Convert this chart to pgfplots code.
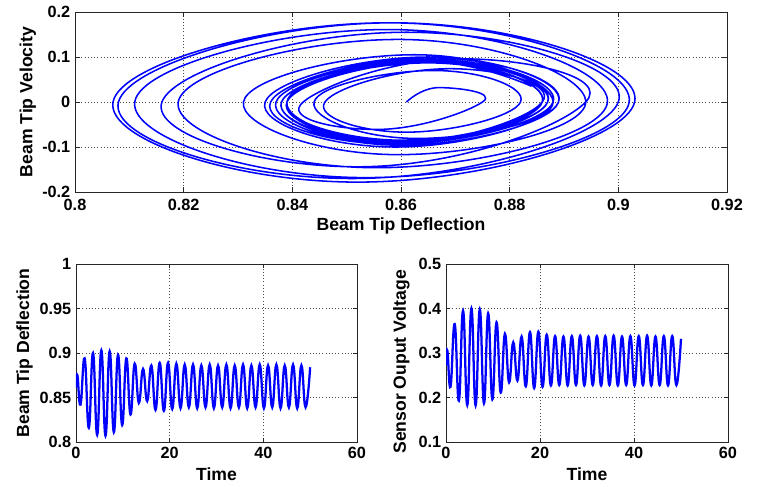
\documentclass[border=0pt]{standalone}
\usepackage{fontspec}
\setmainfont{Liberation Sans}
\usepackage{pgfplots}
\usepackage{pgfplotstable}
\pgfplotsset{compat=1.18}

% extremes of the time histories: time, tip deflection, sensor voltage
\pgfplotstableread{
t D V
0.00 0.861 0.272
0.30 0.875 0.305
0.96 0.842 0.224
1.85 0.894 0.365
2.74 0.816 0.193
3.63 0.900 0.395
4.52 0.808 0.183
5.41 0.903 0.400
6.30 0.807 0.182
7.19 0.902 0.398
8.08 0.811 0.187
8.97 0.898 0.389
9.86 0.819 0.196
10.75 0.894 0.369
11.64 0.831 0.211
12.53 0.888 0.343
13.42 0.844 0.234
14.31 0.882 0.324
15.20 0.846 0.238
16.09 0.886 0.337
16.98 0.836 0.225
17.87 0.889 0.347
18.76 0.835 0.221
19.65 0.889 0.348
20.54 0.837 0.224
21.43 0.888 0.341
22.32 0.838 0.227
23.21 0.887 0.338
24.10 0.839 0.228
24.99 0.887 0.337
25.88 0.838 0.227
26.77 0.886 0.338
27.66 0.839 0.228
28.55 0.887 0.339
29.44 0.838 0.227
30.33 0.886 0.337
31.22 0.839 0.228
32.11 0.887 0.338
33.00 0.838 0.227
33.89 0.886 0.338
34.78 0.839 0.228
35.67 0.887 0.339
36.56 0.838 0.227
37.45 0.886 0.337
38.34 0.839 0.228
39.23 0.887 0.338
40.12 0.838 0.227
41.01 0.886 0.338
41.90 0.839 0.228
42.79 0.887 0.339
43.68 0.838 0.227
44.57 0.886 0.337
45.46 0.839 0.228
46.35 0.887 0.338
47.24 0.838 0.227
48.13 0.886 0.338
49.02 0.839 0.228
50.00 0.884 0.332
}\histories

% phase portrait: deflection vs velocity
\pgfplotstableread{
x v
0.861 0.000
0.867 0.032
0.875 0.000
0.8555 -0.061
0.842 0.000
0.871 0.096
0.894 0.000
0.852 -0.144
0.816 0.000
0.861 0.155
0.900 0.000
0.851 -0.170
0.808 0.000
0.8585 0.176
0.903 0.000
0.852 -0.178
0.807 0.000
0.8575 0.176
0.902 0.000
0.8535 -0.168
0.811 0.000
0.8575 0.161
0.898 0.000
0.8555 -0.146
0.819 0.000
0.8595 0.139
0.894 0.000
0.8595 -0.117
0.831 0.000
0.8625 0.105
0.888 0.000
0.863 -0.081
0.844 0.000
0.866 0.070
0.882 0.000
0.861 -0.067
0.846 0.000
0.869 0.074
0.886 0.000
0.858 -0.093
0.836 0.000
0.8655 0.098
0.889 0.000
0.859 -0.100
0.835 0.000
0.865 0.100
0.889 0.000
0.860 -0.096
0.837 0.000
0.8655 0.094
0.888 0.000
0.860 -0.092
0.838 0.000
0.8655 0.091
0.887 0.000
0.860 -0.089
0.839 0.000
0.866 0.090
0.887 0.000
0.8595 -0.092
0.838 0.000
0.865 0.087
0.886 0.000
0.860 -0.086
0.839 0.000
0.866 0.093
0.887 0.000
0.8595 -0.090
0.838 0.000
0.865 0.089
0.886 0.000
0.8605 -0.085
0.839 0.000
0.866 0.091
0.887 0.000
0.8595 -0.093
0.838 0.000
0.865 0.088
0.886 0.000
0.860 -0.087
0.839 0.000
0.866 0.092
0.887 0.000
0.8595 -0.091
0.838 0.000
0.865 0.089
0.886 0.000
0.860 -0.086
0.839 0.000
0.866 0.090
0.887 0.000
0.8595 -0.092
0.838 0.000
0.865 0.088
0.886 0.000
0.860 -0.088
0.839 0.000
0.866 0.093
0.887 0.000
0.8595 -0.090
0.838 0.000
0.865 0.089
0.886 0.000
0.8605 -0.086
0.839 0.000
0.866 0.091
0.887 0.000
0.8595 -0.091
0.838 0.000
0.865 0.088
0.886 0.000
0.860 -0.087
0.839 0.000
0.862 0.090
0.884 0.035
}\phase

\pgfplotsset{
  matlab/.style={
    scale only axis, anchor=south west,
    axis line style={black!85, line width=0.6pt},
    tick align=inside, tick pos=both, major tick length=3pt,
    tick style={black!85, line width=0.5pt},
    xmajorgrids, ymajorgrids,
    grid style={black!70, dotted, line width=0.55pt},
    ticklabel style={font=\fontsize{12.2}{14}\selectfont\bfseries},
    label style={font=\fontsize{13.2}{15}\selectfont\bfseries},
  },
}

\begin{document}
\begin{tikzpicture}
\useasboundingbox (0,0) rectangle (567.75pt,-364.5pt);

\begin{axis}[matlab,
  at={(56.25pt,-144pt)}, width=489pt, height=135pt,
  major tick length=4pt,
  xmin=0.8, xmax=0.92, ymin=-0.2, ymax=0.2,
  xtick={0.8,0.82,0.84,0.86,0.88,0.9,0.92},
  xticklabels={0.8,0.82,0.84,0.86,0.88,0.9,0.92},
  xticklabel style={yshift=-1.5pt},
  ytick={-0.2,-0.1,0,0.1,0.2},
  yticklabels={-0.2,-0.1,0,0.1,0.2},
  xlabel={Beam Tip Deflection}, ylabel={Beam Tip Velocity},
  xlabel style={at={(axis description cs:0.5,0)}, anchor=base, yshift=-28.5pt},
  ylabel style={at={(axis description cs:-0.0654,0.5)}, anchor=base},
]
\addplot[blue, line width=1.15pt, smooth, tension=0.85] table[x=x, y=v] {\phase};
\end{axis}

\begin{axis}[matlab,
  at={(57pt,-331.5pt)}, width=210.75pt, height=133.5pt,
  xmin=0, xmax=60, ymin=0.8, ymax=1,
  xtick={0,20,40,60}, xticklabels={0,20,40,60},
  ytick={0.8,0.85,0.9,0.95,1},
  yticklabels={0.8,0.85,0.9,0.95,1},
  xlabel={Time}, ylabel={Beam Tip Deflection},
  xlabel style={at={(axis description cs:0.5,0)}, anchor=base, yshift=-29pt},
  ylabel style={at={(axis description cs:-0.167,0.5)}, anchor=base},
]
\addplot[blue, line width=1.7pt, smooth, tension=0.8] table[x=t, y=D] {\histories};
\end{axis}

\begin{axis}[matlab,
  at={(334.5pt,-331.5pt)}, width=211.5pt, height=133.5pt,
  xmin=0, xmax=60, ymin=0.1, ymax=0.5,
  xtick={0,20,40,60}, xticklabels={0,20,40,60},
  ytick={0.1,0.2,0.3,0.4,0.5},
  yticklabels={0.1,0.2,0.3,0.4,0.5},
  xlabel={Time}, ylabel={Sensor Ouput Voltage},
  xlabel style={at={(axis description cs:0.5,0)}, anchor=base, yshift=-29pt},
  ylabel style={at={(axis description cs:-0.142,0.45)}, anchor=base},
]
\addplot[blue, line width=1.7pt, smooth, tension=0.8] table[x=t, y=V] {\histories};
\end{axis}
\end{tikzpicture}
\end{document}
